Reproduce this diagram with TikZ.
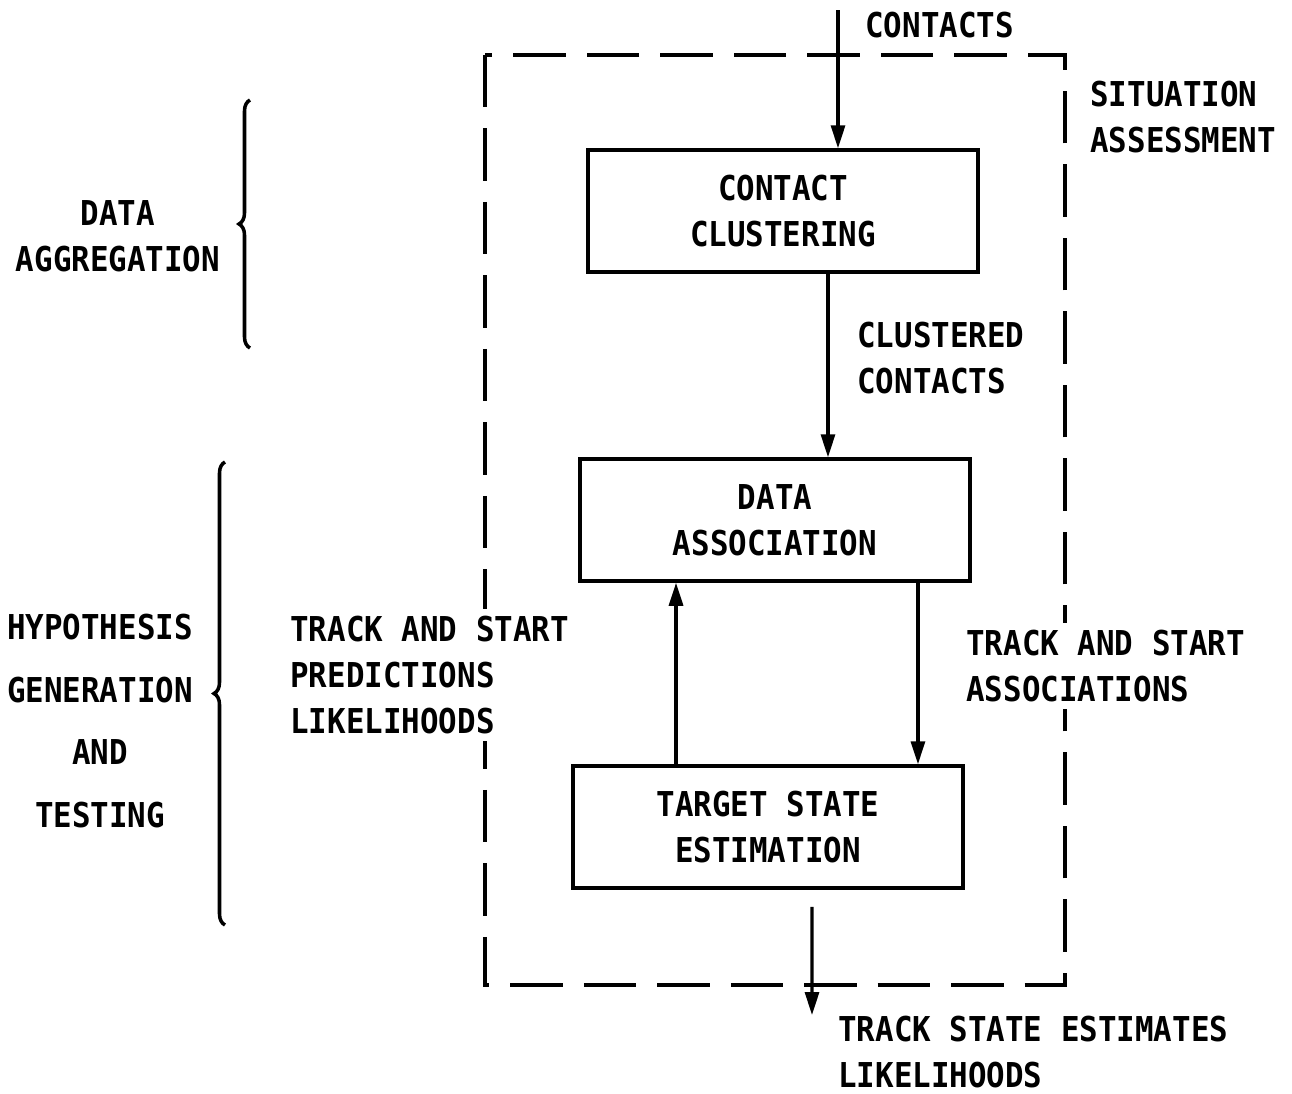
\documentclass[tikz,border=0pt]{standalone}
\usepackage{fontspec}
\setmainfont{DejaVu Sans Mono}[FakeStretch=0.9]
\usetikzlibrary{arrows.meta,positioning,decorations.pathreplacing}
\newcommand{\diagfont}{\fontsize{19.5}{26}\selectfont\bfseries}
\tikzset{
  blk/.style={rectangle, draw=black, line width=2pt, minimum width=7.8cm, minimum height=2.44cm, align=center, font=\diagfont},
  lbl/.style={rectangle, align=left, inner sep=0pt, font=\diagfont},
  lblw/.style={lbl, fill=white, inner sep=4pt},
  lblc/.style={rectangle, align=center, inner sep=0pt, font=\diagfont},
  flow/.style={draw, line width=1.8pt, -{Triangle[length=0.46cm,width=0.28cm]}},
  frame/.style={draw, line width=2pt, dash pattern=on 1.05cm off 0.42cm},
  curly/.style={draw, line width=2pt, decorate, decoration={brace, amplitude=0.22cm}},
}
\begin{document}
\begin{tikzpicture}[x=0.02cm, y=-0.02cm]
    \useasboundingbox (0,0) rectangle (1292,1093);

    % situation assessment frame
    \draw[frame] (485,55) rectangle (1065,985);
    \node[lbl, anchor=west] (sit) at (1090,117) {SITUATION\\ASSESSMENT};

    % processing blocks
    \node[blk] (cc) at (783,211) {CONTACT\\CLUSTERING};
    \node[blk] (da) at (775,520) {DATA\\ASSOCIATION};
    \node[blk] (ts) at (768,827) {TARGET STATE\\ESTIMATION};

    \coordinate (cin) at (838,10);
    \coordinate (tout) at (812,1015);

    \node[lbl, anchor=west] (contacts) at (865,25) {CONTACTS};
    \node[lbl, anchor=west] (clus) at (857,358) {CLUSTERED\\CONTACTS};
    \node[lblw, anchor=west] (pred) at (283,675) {TRACK AND START\\PREDICTIONS\\LIKELIHOODS};
    \node[lblw, anchor=west] (assoc) at (959,666) {TRACK AND START\\ASSOCIATIONS};
    \node[lbl, anchor=west] (est) at (838,1052) {TRACK STATE ESTIMATES\\LIKELIHOODS};

    % phases on the left
    \node[lblc] (agg) at (118,236) {DATA\\AGGREGATION};
    \node[lblc] (hyp) at (100,721) {HYPOTHESIS\\[0.34cm]GENERATION\\[0.34cm]AND\\[0.34cm]TESTING};
    \draw[curly] (250,348) -- (250,100);
    \draw[curly] (225,925) -- (225,462);

    \begin{scope}[every path/.style=flow]
      \path (cin) -- (cin |- cc.north);
      \path ([xshift=0.9cm]cc.south) -- ([xshift=0.9cm]cc.south |- da.north);
      \path ([xshift=-1.84cm]ts.north) -- ([xshift=-1.84cm]ts.north |- da.south);
      \path ([xshift=2.86cm]da.south) -- ([xshift=2.86cm]da.south |- ts.north);
      \path ([xshift=0.88cm,yshift=-0.34cm]ts.south) -- (tout);
    \end{scope}
\end{tikzpicture}
\end{document}
